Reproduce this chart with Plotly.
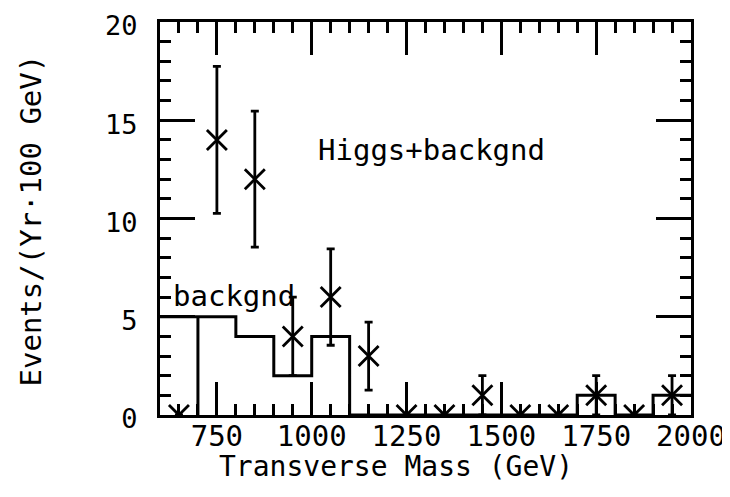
import plotly.graph_objects as go

# ---- data ----
bin_edges = [600, 700, 800, 900, 1000, 1100, 1200, 1300, 1400, 1500, 1600, 1700, 1800, 1900, 2000]
bin_centers = [650, 750, 850, 950, 1050, 1150, 1250, 1350, 1450, 1550, 1650, 1750, 1850, 1950]
signal_counts = [0, 14, 12, 4, 6, 3, 0, 0, 1, 0, 0, 1, 0, 1]
signal_errors = [0, 3.74, 3.46, 2, 2.45, 1.73, 0, 0, 1, 0, 0, 1, 0, 1]
bkg_counts = [5, 5, 4, 2, 4, 0, 0, 0, 0, 0, 0, 1, 0, 1]
bkg_dividers = [700]
x_tick_vals = [750, 1000, 1250, 1500, 1750, 2000]
y_tick_vals = [0, 5, 10, 15, 20]

FONT = "DejaVu Sans Mono"
FS = 29

# histogram outline path built from the bin data
hx, hy = [], []
for lo, hi, v in zip(bin_edges[:-1], bin_edges[1:], bkg_counts):
    if lo in bkg_dividers:
        hx.append(lo); hy.append(0)
    hx += [lo, hi]
    hy += [v, v]

fig = go.Figure()
fig.add_trace(go.Scatter(x=hx, y=hy, mode="lines",
                         line=dict(color="black", width=3), showlegend=False,
                         hoverinfo="skip"))
fig.add_trace(go.Scatter(
    x=bin_centers, y=signal_counts, mode="markers",
    marker=dict(symbol="x-thin", size=20, line=dict(color="black", width=2.8)),
    error_y=dict(type="data", array=signal_errors, visible=True,
                 color="black", thickness=2.8, width=4),
    showlegend=False))

axis_common = dict(showline=True, linecolor="black", linewidth=3, mirror="ticks",
                   ticks="inside", tickcolor="black", tickwidth=3,
                   showgrid=False, zeroline=False, automargin=False,
                   ticklabeloverflow="allow")

fig.update_xaxes(range=[600, 2000], tickvals=x_tick_vals, ticklen=33,
                 minor=dict(dtick=50, tick0=0, ticks="inside", ticklen=11,
                            tickwidth=3, tickcolor="black"),
                 ticklabelstandoff=-7,
                 tickfont=dict(family=FONT, size=FS, color="black"),
                 **axis_common)
fig.update_yaxes(range=[0, 20], tickvals=y_tick_vals, ticklen=35,
                 minor=dict(dtick=1, tick0=0, ticks="inside", ticklen=11,
                            tickwidth=3, tickcolor="black"),
                 ticklabelstandoff=14, ticklabelshift=4,
                 tickfont=dict(family=FONT, size=27, color="black"),
                 **axis_common)

fig.add_annotation(text="Higgs+backgnd", x=1010, y=13.5, xref="x", yref="y",
                   xanchor="left", yanchor="middle", showarrow=False,
                   font=dict(family=FONT, size=FS, color="black"))
fig.add_annotation(text="backgnd", x=630, y=6.05, xref="x", yref="y",
                   xanchor="left", yanchor="middle", showarrow=False,
                   font=dict(family=FONT, size=FS, color="black"))
fig.add_annotation(text="Transverse Mass (GeV)", xref="paper", yref="paper",
                   x=0, y=0, xshift=236, yshift=-51, xanchor="center", yanchor="middle",
                   showarrow=False, font=dict(family=FONT, size=28, color="black"))
fig.add_annotation(text="Events/(Yr·100 GeV)", xref="paper", yref="paper",
                   x=0, y=0.5, xshift=-130, yshift=-2, xanchor="center", yanchor="middle",
                   textangle=-90, showarrow=False,
                   font=dict(family=FONT, size=FS, color="black"))

fig.update_layout(width=730, height=497, plot_bgcolor="white", paper_bgcolor="white",
                  margin=dict(l=152, r=47, t=14, b=90, autoexpand=False))

fig.write_html("out.html")
